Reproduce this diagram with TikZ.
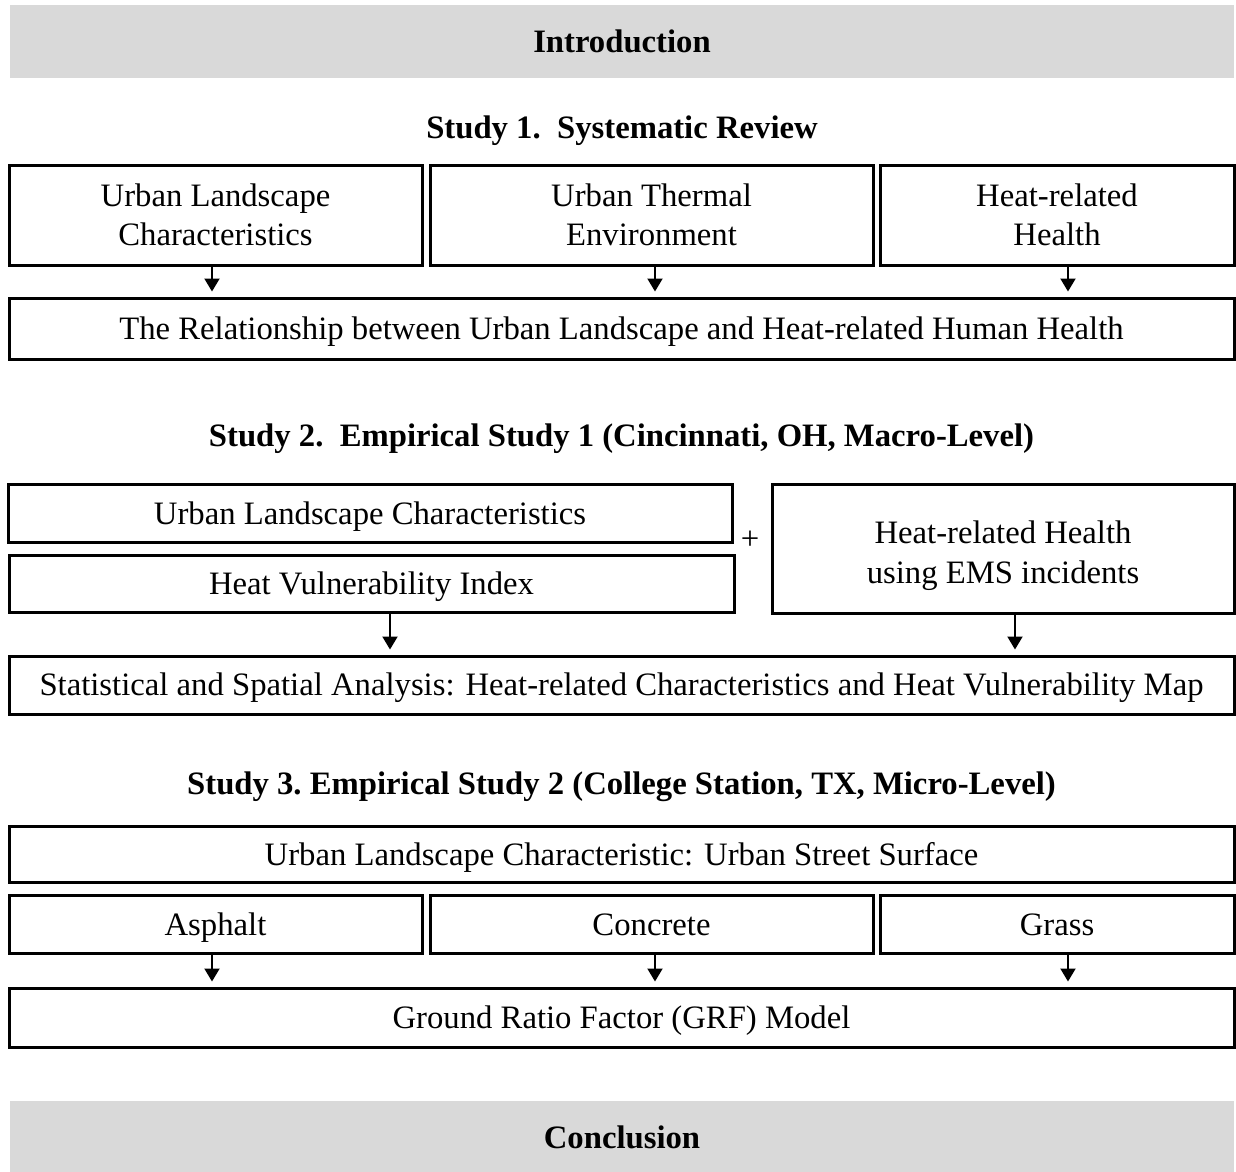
\documentclass[tikz,border=0pt]{standalone}
\usepackage{fontspec}
\setmainfont{Liberation Serif}
\usetikzlibrary{arrows.meta,calc}
\definecolor{bandgray}{HTML}{D9D9D9}
\newcommand\lnstrut{\rule[-7pt]{0pt}{36pt}}
\begin{document}
\begin{tikzpicture}[x=1pt,y=-1pt,
  every node/.style={font=\fontsize{32.7}{39.5}\selectfont},
  box/.style={draw,line width=3pt,inner sep=0pt,align=center,execute at begin node=\lnstrut},
  twobox/.style={draw,line width=3pt,inner sep=0pt,align=center},
  band/.style={fill=bandgray,inner sep=0pt,minimum width=1224pt,font=\fontsize{32.7}{39.5}\selectfont\bfseries,execute at begin node=\lnstrut},
  title/.style={font=\fontsize{32.7}{39.5}\selectfont\bfseries,inner sep=0pt,execute at begin node=\lnstrut},
  arr/.style={line width=2pt,-{Triangle[width=15pt,length=13pt]},shorten >=5pt}
]
\useasboundingbox[fill=white] (0,0) rectangle (1236,1171);

% Introduction band
\node[band,minimum height=73pt] (intro) at (622,41.5) {Introduction};

% Study 1
\node[title] (t1) at (622,128) {Study 1.\ \ Systematic Review};
\node[twobox,minimum width=413pt,minimum height=100pt] (a) at (215.5,215) {Urban Landscape\\Characteristics};
\node[twobox,minimum width=443pt,minimum height=100pt] (b) at (651.5,215) {Urban Thermal\\Environment};
\node[twobox,minimum width=354pt,minimum height=100pt] (c) at (1057,215) {Heat-related\\Health};
\node[box,minimum width=1225pt,minimum height=61pt] (d) at (621.5,328.5) {The Relationship between Urban Landscape and Heat-related Human Health};
\draw[arr] ([xshift=-3.5pt]a.south) -- ([xshift=-3.5pt]a.south |- d.north);
\draw[arr] ([xshift=3.5pt]b.south) -- ([xshift=3.5pt]b.south |- d.north);
\draw[arr] ([xshift=11pt]c.south) -- ([xshift=11pt]c.south |- d.north);

% Study 2
\node[title] (t2) at (621.5,436) {Study 2.\ \ Empirical Study 1 (Cincinnati, OH, Macro-Level)};
\node[box,minimum width=724pt,minimum height=58pt] (e) at (370,513) {Urban Landscape Characteristics};
\node[box,minimum width=725pt,minimum height=57pt] (f) at (371.5,583.5) {Heat Vulnerability Index};
\node[inner sep=0pt] (plus) at (750,540) {+};
\node[twobox,minimum width=462pt,minimum height=129pt] (g) at (1003,548.5) {};
\node[align=center,inner sep=0pt] (gtext) at ([yshift=-7pt]g.center) {Heat-related Health\\using EMS incidents};
\node[box,minimum width=1225pt,minimum height=58pt] (h) at (621.5,685) {Statistical and Spatial Analysis: Heat-related Characteristics and Heat Vulnerability Map};
\draw[arr] ([xshift=18.5pt]f.south) -- ([xshift=18.5pt]f.south |- h.north);
\draw[arr] ([xshift=12pt]g.south) -- ([xshift=12pt]g.south |- h.north);

% Study 3
\node[title] (t3) at (621.5,784) {Study 3.\ Empirical Study 2 (College Station, TX, Micro-Level)};
\node[box,minimum width=1225pt,minimum height=56pt] (i) at (621.5,854) {Urban Landscape Characteristic: Urban Street Surface};
\node[box,minimum width=413pt,minimum height=58pt] (j) at (215.5,924) {Asphalt};
\node[box,minimum width=443pt,minimum height=58pt] (k) at (651.5,924) {Concrete};
\node[box,minimum width=354pt,minimum height=58pt] (l) at (1057,924) {Grass};
\node[box,minimum width=1225pt,minimum height=59pt] (m) at (621.5,1017.5) {Ground Ratio Factor (GRF) Model};
\draw[arr] ([xshift=-3.5pt]j.south) -- ([xshift=-3.5pt]j.south |- m.north);
\draw[arr] ([xshift=3.5pt]k.south) -- ([xshift=3.5pt]k.south |- m.north);
\draw[arr] ([xshift=11pt]l.south) -- ([xshift=11pt]l.south |- m.north);

% Conclusion band
\node[band,minimum height=72pt] (concl) at (622,1137) {Conclusion};
\end{tikzpicture}
\end{document}
